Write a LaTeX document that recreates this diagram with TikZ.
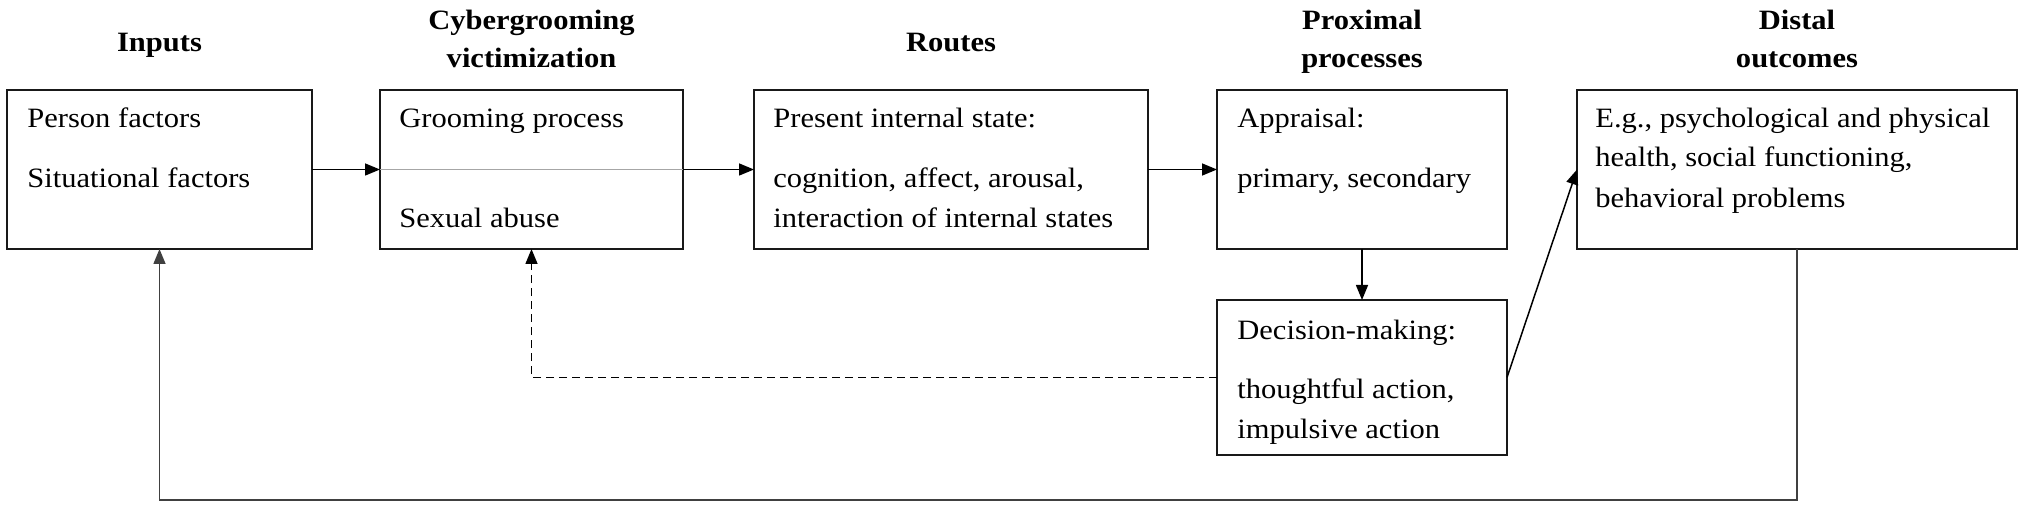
\documentclass[tikz,border=0pt]{standalone}
\usepackage{fontspec}
\setmainfont{Liberation Serif}[FakeStretch=1.09]
\usetikzlibrary{arrows.meta}
\begin{document}
\begin{tikzpicture}[x=0.5pt,y=-0.5pt,
  box/.style={draw=black!90, line width=1pt, inner sep=0pt, outer sep=0pt, minimum height=79.5pt},
  txt/.style={anchor=base west, inner sep=0pt, font=\fontsize{14pt}{16pt}\selectfont},
  ttl/.style={anchor=base, inner sep=0pt, font=\fontsize{14pt}{16pt}\selectfont\bfseries},
  arr/.style={line width=0.75pt, -{Triangle[length=7.5pt,width=6pt]}},
]
\useasboundingbox (0,0) rectangle (2030,513);
% boxes
\node[box, minimum width=152.5pt] (b1) at (159.5,169.5) {};
\node[box, minimum width=151.5pt] (b2) at (531.5,169.5) {};
\node[box, minimum width=197pt] (b3) at (951,169.5) {};
\node[box, minimum width=145pt] (b4) at (1362,169.5) {};
\node[box, minimum width=220pt] (b5) at (1797,169.5) {};
\node[box, minimum width=145pt, minimum height=77.5pt] (b6) at (1362,377.5) {};
% titles
\node[ttl] (t1) at (159.5,52) {Inputs};
\node[ttl] (t2a) at (531.5,30) {Cybergrooming};
\node[ttl] (t2b) at (531.5,68) {victimization};
\node[ttl] (t3) at (951,52) {Routes};
\node[ttl] (t4a) at (1362,30) {Proximal};
\node[ttl] (t4b) at (1362,68) {processes};
\node[ttl] (t5a) at (1797,30) {Distal};
\node[ttl] (t5b) at (1797,68) {outcomes};
% texts
\node[txt] (p1) at (27,128) {Person factors};
\node[txt] (p2) at (27,188) {Situational factors};
\node[txt] (g1) at (399,128) {Grooming process};
\node[txt] (g2) at (399,228) {Sexual abuse};
\node[txt] (r1) at (773,128) {Present internal state:};
\node[txt] (r2) at (773,188) {cognition, affect, arousal,};
\node[txt] (r3) at (773,228) {interaction of internal states};
\node[txt] (a1) at (1237,128) {Appraisal:};
\node[txt] (a2) at (1237,188) {primary, secondary};
\node[txt] (d1) at (1237,340) {Decision-making:};
\node[txt] (d2) at (1237,398) {thoughtful action,};
\node[txt] (d3) at (1237,438) {impulsive action};
\node[txt] (o1) at (1595,128) {E.g., psychological and physical};
\node[txt] (o2) at (1595,167) {health, social functioning,};
\node[txt] (o3) at (1595,208) {behavioral problems};
% connectors
\draw[black!35, line width=0.75pt] (b2.west) -- (b2.east);
\draw[arr] (b1.east) -- (b2.west);
\draw[arr] (b2.east) -- (b3.west);
\draw[arr] (b3.east) -- (b4.west);
\draw[arr] (b4.south) -- (b6.north);
\draw[arr] (b6.east) -- (b5.west);
\draw[arr, dash pattern=on 4pt off 2.5pt] (b6.west) -| (b2.south);
\coordinate (fbR) at (1797,500);
\coordinate (fbL) at (159.5,500);
\draw[arr, draw=black!75] (b5.south) -- (fbR) -- (fbL) -- (b1.south);
\end{tikzpicture}
\end{document}
